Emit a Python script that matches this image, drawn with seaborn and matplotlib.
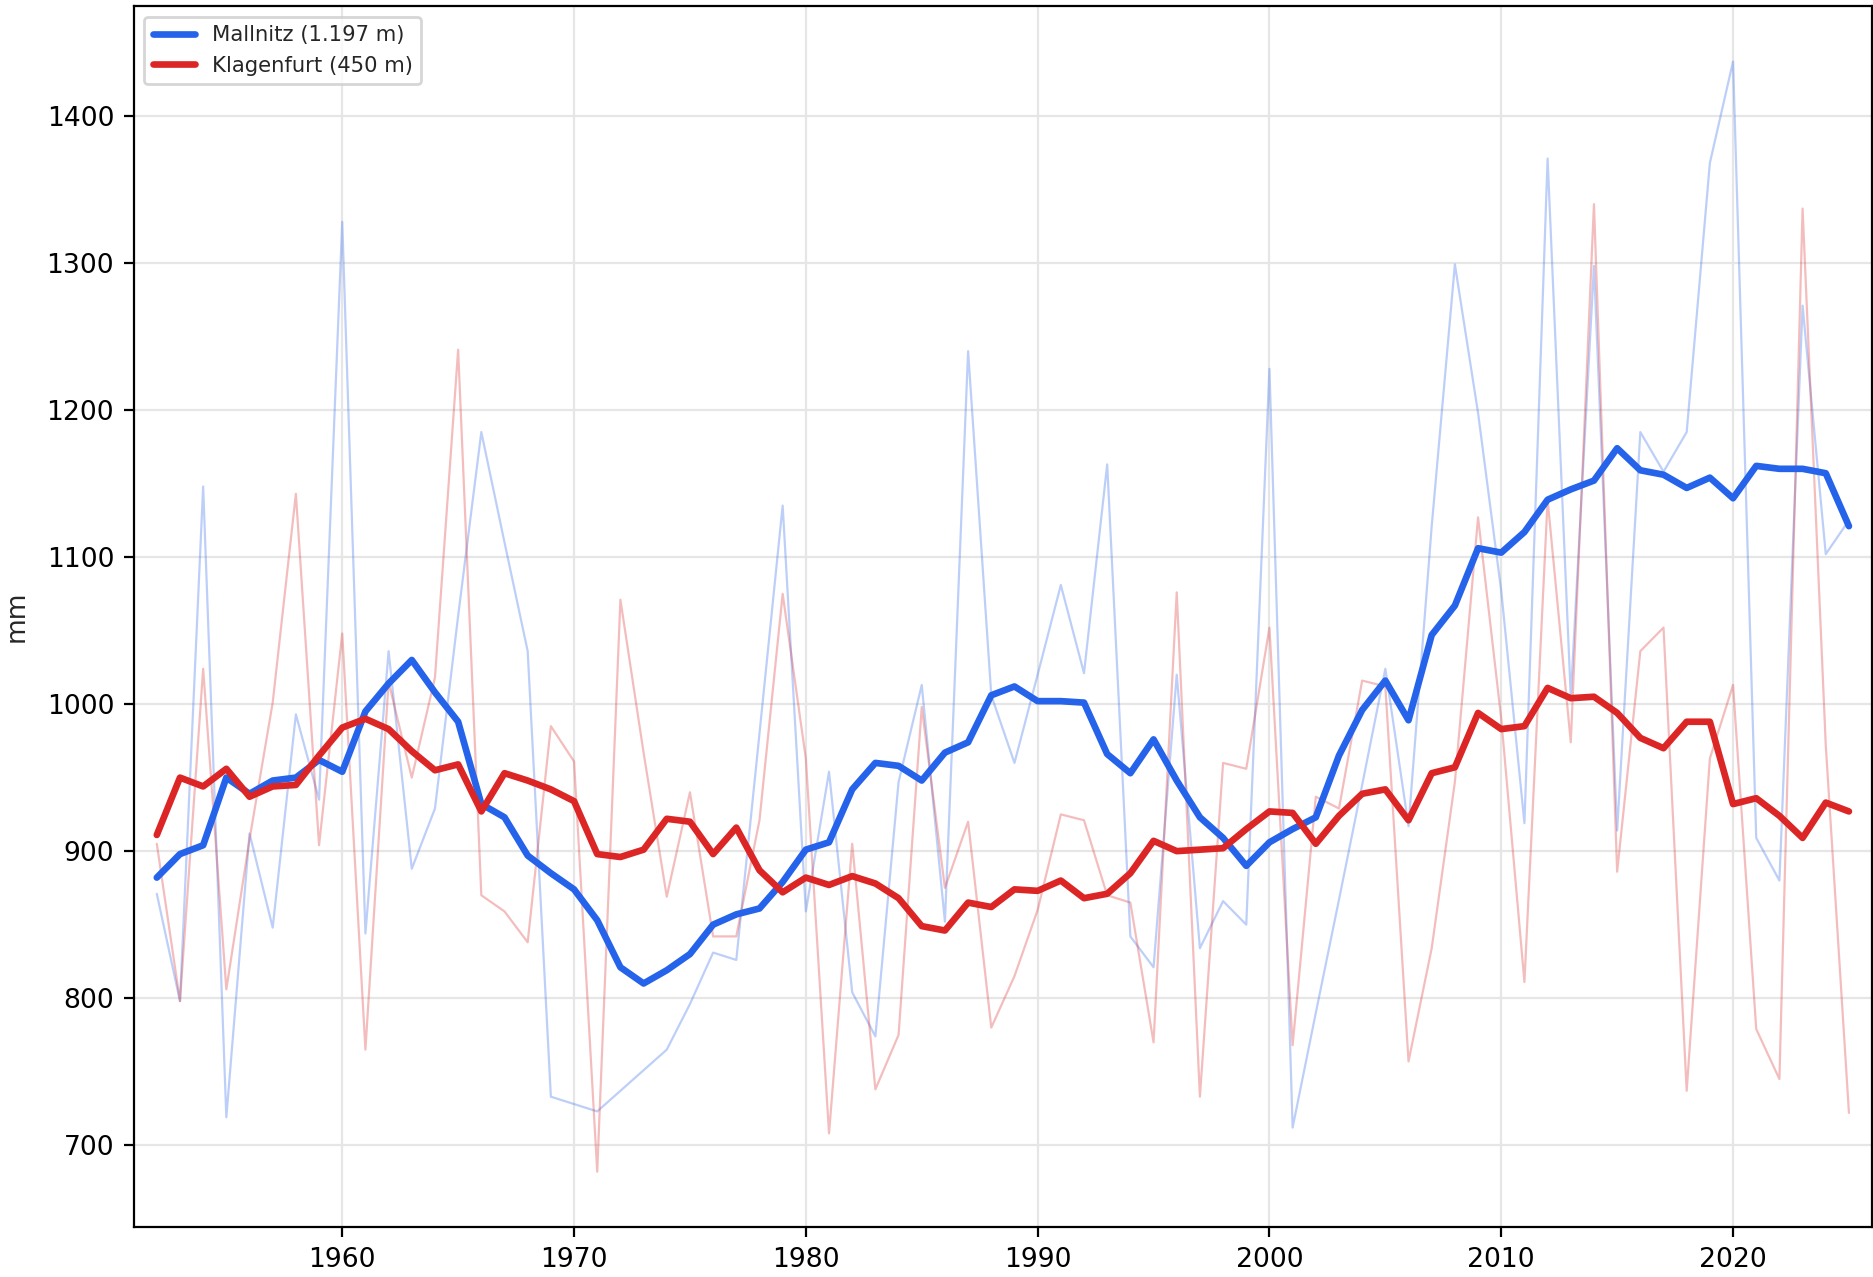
import numpy as np
import pandas as pd
import matplotlib
matplotlib.use("Agg")
import matplotlib.pyplot as plt
import seaborn as sns

years = list(range(1952, 2026))

mallnitz_annual = [871, 798, 1148, 719, 912, 848, 993, 935, 1328, 844,
                   1036, 888, 929, 1060, 1185, 1110, 1036, 733, 728, 723,
                   737, 751, 765, 796, 831, 826, 980, 1135, 859, 954,
                   804, 774, 947, 1013, 852, 1240, 1006, 960, 1020, 1081,
                   1021, 1163, 842, 821, 1020, 834, 866, 850, 1228, 712,
                   790, 867, 945, 1024, 917, 1121, 1299, 1198, 1077, 919,
                   1371, 1005, 1298, 914, 1185, 1158, 1185, 1368, 1437, 909,
                   880, 1271, 1102, 1125]

klagenfurt_annual = [905, 798, 1024, 806, 908, 1001, 1143, 904, 1048, 765,
                     1015, 950, 1018, 1241, 870, 859, 838, 985, 961, 682,
                     1071, 967, 869, 940, 842, 842, 921, 1075, 963, 708,
                     905, 738, 775, 998, 875, 920, 780, 815, 860, 925,
                     921, 870, 865, 770, 1076, 733, 960, 956, 1052, 768,
                     937, 929, 1016, 1012, 757, 834, 947, 1127, 990, 811,
                     1139, 974, 1340, 886, 1036, 1052, 737, 963, 1013, 779,
                     745, 1337, 972, 722]

mallnitz_smooth = [882, 898, 904, 950, 939, 948, 950, 962, 954, 995,
                   1014, 1030, 1008, 988, 932, 923, 897, 885, 874, 853,
                   821, 810, 819, 830, 850, 857, 861, 879, 901, 906,
                   942, 960, 958, 948, 967, 974, 1006, 1012, 1002, 1002,
                   1001, 966, 953, 976, 948, 923, 909, 890, 906, 915,
                   923, 965, 996, 1016, 989, 1047, 1067, 1106, 1103, 1117,
                   1139, 1146, 1152, 1174, 1159, 1156, 1147, 1154, 1140, 1162,
                   1160, 1160, 1157, 1121]

klagenfurt_smooth = [911, 950, 944, 956, 937, 944, 945, 965, 984, 990,
                     983, 968, 955, 959, 927, 953, 948, 942, 934, 898,
                     896, 901, 922, 920, 898, 916, 887, 872, 882, 877,
                     883, 878, 868, 849, 846, 865, 862, 874, 873, 880,
                     868, 871, 885, 907, 900, 901, 902, 915, 927, 926,
                     905, 924, 939, 942, 921, 953, 957, 994, 983, 985,
                     1011, 1004, 1005, 994, 977, 970, 988, 988, 932, 936,
                     924, 909, 933, 927]

station_labels = ["Mallnitz (1.197 m)", "Klagenfurt (450 m)"]
colors = ["#2563eb", "#dc2626"]

df = pd.DataFrame({
    "year": years,
    "m_annual": mallnitz_annual,
    "k_annual": klagenfurt_annual,
    "m_smooth": mallnitz_smooth,
    "k_smooth": klagenfurt_smooth,
})

sns.set_style("white")
plt.rcParams["font.family"] = ["DejaVu Sans"]

fig = plt.figure(figsize=(1874 / 200, 1277 / 200), dpi=200)
ax = fig.add_axes([0.0713, 0.039, 0.9277, 0.9563])

sns.lineplot(data=df, x="year", y="m_annual", ax=ax, color=colors[0],
             alpha=0.3, linewidth=0.8, legend=False)
sns.lineplot(data=df, x="year", y="k_annual", ax=ax, color=colors[1],
             alpha=0.3, linewidth=0.8, legend=False)
sns.lineplot(data=df, x="year", y="m_smooth", ax=ax, color=colors[0],
             linewidth=2.4, label=station_labels[0])
sns.lineplot(data=df, x="year", y="k_smooth", ax=ax, color=colors[1],
             linewidth=2.4, label=station_labels[1])

ax.set_xlim(1951, 2026)
ax.set_xticks([1960, 1970, 1980, 1990, 2000, 2010, 2020])
ax.set_yticks([700, 800, 900, 1000, 1100, 1200, 1300, 1400])
ax.grid(True, color="#e6e6e6", linewidth=0.8)
ax.set_axisbelow(True)
ax.set_xlabel("")
ax.set_ylabel("mm", fontsize=9.5, labelpad=6)
ax.tick_params(axis="both", labelsize=9.6, length=3.5, width=0.8,
               bottom=True, left=True, colors="black")
for s in ax.spines.values():
    s.set_visible(True)
    s.set_color("black")
    s.set_linewidth(0.8)

ax.legend(loc="upper left", fontsize=7.6, framealpha=0.8, edgecolor="#cccccc")

fig.savefig("out.png", dpi=200)
